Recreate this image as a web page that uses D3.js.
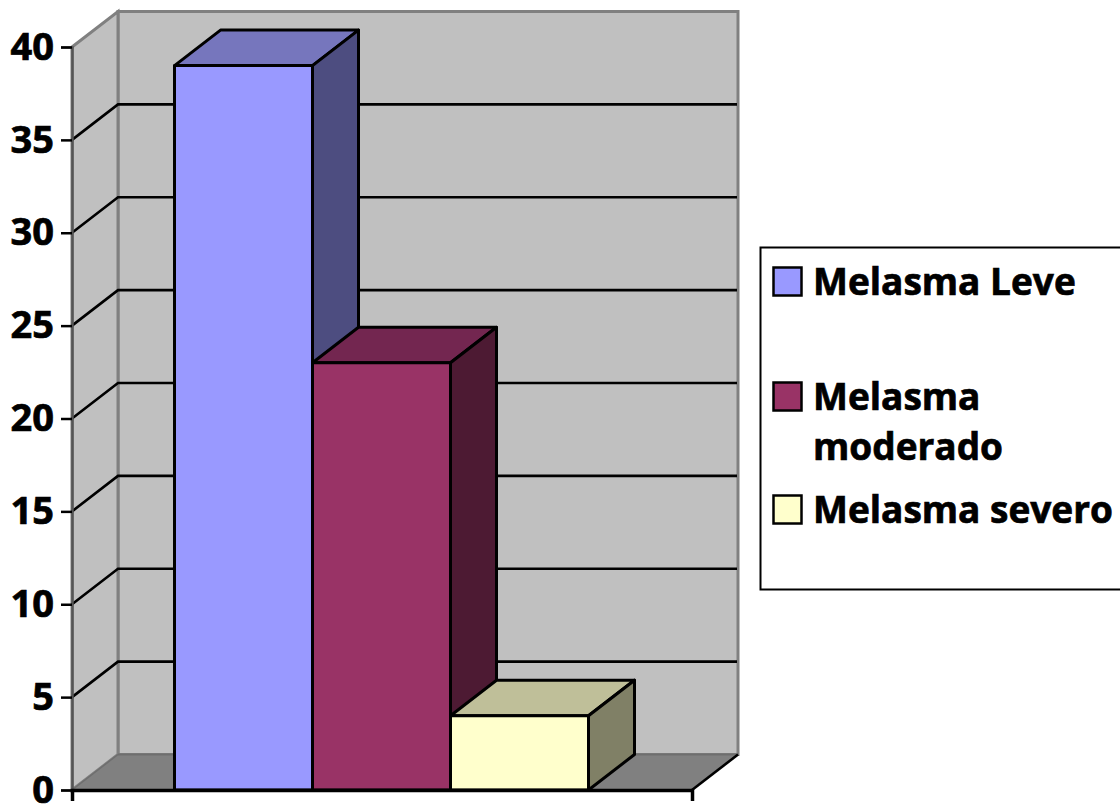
<!DOCTYPE html>
<html>
<head>
<meta charset="utf-8">
<script src="https://cdn.jsdelivr.net/npm/d3@7/dist/d3.min.js"></script>
<style>
html,body{margin:0;padding:0;background:#fff;overflow:hidden}
svg{display:block}
text{font-family:"Open Sans",sans-serif;font-weight:700;fill:#000}
</style>
</head>
<body>
<svg id="chart" width="1120" height="804"></svg>
<script>
// Severity groups and their counts
const categories = ["Melasma Leve", "Melasma moderado", "Melasma severo"];
const values = [39, 23, 4];
const yTicks = [0, 5, 10, 15, 20, 25, 30, 35, 40];
const frontColors = ["#9999ff", "#993366", "#ffffcc"];
const topColors = ["#7676bd", "#732650", "#bfbf99"];
const sideColors = ["#4d4d80", "#4d1a33", "#808066"];
const legendLines = [["Melasma Leve"], ["Melasma", "moderado"], ["Melasma severo"]];

const svg = d3.select("#chart");

// Oblique projection offset of the 3D box
const depthX = 46, depthY = -35.5;

const y = d3.scaleLinear().domain([0, 40]).range([790, 47]);
const xFrame = d3.scaleLinear().domain([0, 1]).range([72, 692]);
const x = d3.scaleBand().domain(categories).range([174.5, 588.5]);

const poly = pts => pts.map(p => p.join(",")).join(" ");
const x0 = xFrame(0), x1 = xFrame(1), y0 = y(0), yT = y(40);

// Back wall, side wall, floor
const walls = svg.append("g");
walls.append("polygon")
  .attr("points", poly([[x0 + depthX, yT + depthY], [x1 + depthX, yT + depthY], [x1 + depthX, y0 + depthY], [x0 + depthX, y0 + depthY]]))
  .attr("fill", "#c0c0c0").attr("stroke", "#808080").attr("stroke-width", 3);
walls.append("polygon")
  .attr("points", poly([[x0, yT], [x0 + depthX, yT + depthY], [x0 + depthX, y0 + depthY], [x0, y0]]))
  .attr("fill", "#c0c0c0").attr("stroke", "#808080").attr("stroke-width", 3);

// Gridlines run across the side wall and the back wall
const gridTicks = yTicks.filter(t => t > 0 && t < 40);
walls.selectAll("polyline.grid").data(gridTicks).join("polyline")
  .attr("class", "grid")
  .attr("points", t => poly([[x0, y(t)], [x0 + depthX, y(t) + depthY], [x1 + depthX - 1, y(t) + depthY]]))
  .attr("fill", "none").attr("stroke", "#000").attr("stroke-width", 2.6);

walls.append("polygon")
  .attr("points", poly([[x0, y0], [x1, y0], [x1 + depthX, y0 + depthY], [x0 + depthX, y0 + depthY]]))
  .attr("fill", "#808080").attr("stroke", "none");
walls.append("line")
  .attr("x1", x0 + depthX).attr("x2", x1 + depthX)
  .attr("y1", y0 + depthY).attr("y2", y0 + depthY)
  .attr("stroke", "#6e6e6e").attr("stroke-width", 2);
walls.append("line")
  .attr("x1", x0).attr("y1", y0)
  .attr("x2", x0 + depthX).attr("y2", y0 + depthY)
  .attr("stroke", "#6e6e6e").attr("stroke-width", 1.5);
walls.append("line")
  .attr("x1", x1).attr("y1", y0)
  .attr("x2", x1 + depthX).attr("y2", y0 + depthY)
  .attr("stroke", "#000").attr("stroke-width", 2.6);

// Boxes, drawn left to right so each one overlaps the previous side face
const bars = svg.append("g").selectAll("g").data(categories).join("g")
  .attr("stroke", "#000").attr("stroke-width", 3).attr("stroke-linejoin", "round");
bars.append("polygon").attr("fill", (d, i) => topColors[i])
  .attr("points", (d, i) => {
    const a = x(d), b = a + x.bandwidth(), t = y(values[i]);
    return poly([[a, t], [a + depthX, t + depthY], [b + depthX, t + depthY], [b, t]]);
  });
bars.append("polygon").attr("fill", (d, i) => sideColors[i])
  .attr("points", (d, i) => {
    const b = x(d) + x.bandwidth(), t = y(values[i]);
    return poly([[b, t], [b + depthX, t + depthY], [b + depthX, y0 + depthY], [b, y0]]);
  });
bars.append("rect").attr("fill", (d, i) => frontColors[i])
  .attr("x", d => x(d)).attr("width", x.bandwidth())
  .attr("y", (d, i) => y(values[i])).attr("height", (d, i) => y0 - y(values[i]));

// Value axis
const yAxis = svg.append("g").attr("transform", `translate(${x0},0)`)
  .call(d3.axisLeft(y).tickValues(yTicks).tickSize(11).tickPadding(7));
yAxis.select(".domain").attr("stroke", "#555").attr("stroke-width", 2.5);
yAxis.selectAll(".tick line").attr("stroke", "#000").attr("stroke-width", 2.5);
yAxis.selectAll("text").attr("font-size", 38).style("font-family", "'Open Sans',sans-serif").style("font-weight", 700)
  .attr("fill", "#000").attr("stroke", "#000").attr("stroke-width", 0.7);

// Baseline with end ticks
const xAxis = svg.append("g").attr("transform", `translate(0,${y0})`)
  .call(d3.axisBottom(xFrame).tickValues([0, 1]).tickSize(11).tickFormat(""));
xAxis.select(".domain").attr("stroke", "#000").attr("stroke-width", 3.5);
xAxis.selectAll(".tick line").attr("stroke", "#000").attr("stroke-width", 2);

// Legend
const legend = svg.append("g");
legend.append("rect").attr("x", 760.5).attr("y", 247.5).attr("width", 400).attr("height", 342)
  .attr("fill", "#fff").attr("stroke", "#000").attr("stroke-width", 2);
const legendBase = [295, 410, 523];
const items = legend.selectAll("g.item").data(categories).join("g").attr("class", "item");
items.append("rect")
  .attr("x", 773.5).attr("y", (d, i) => legendBase[i] - 27.5)
  .attr("width", 28).attr("height", 28)
  .attr("fill", (d, i) => frontColors[i]).attr("stroke", "#000").attr("stroke-width", 2.5);
items.each(function (d, i) {
  d3.select(this).selectAll("text").data(legendLines[i]).join("text")
    .attr("x", 813).attr("y", (l, j) => legendBase[i] + j * 50)
    .attr("font-size", 37).attr("stroke", "#000").attr("stroke-width", 0.7).text(l => l);
});
</script>
</body>
</html>
